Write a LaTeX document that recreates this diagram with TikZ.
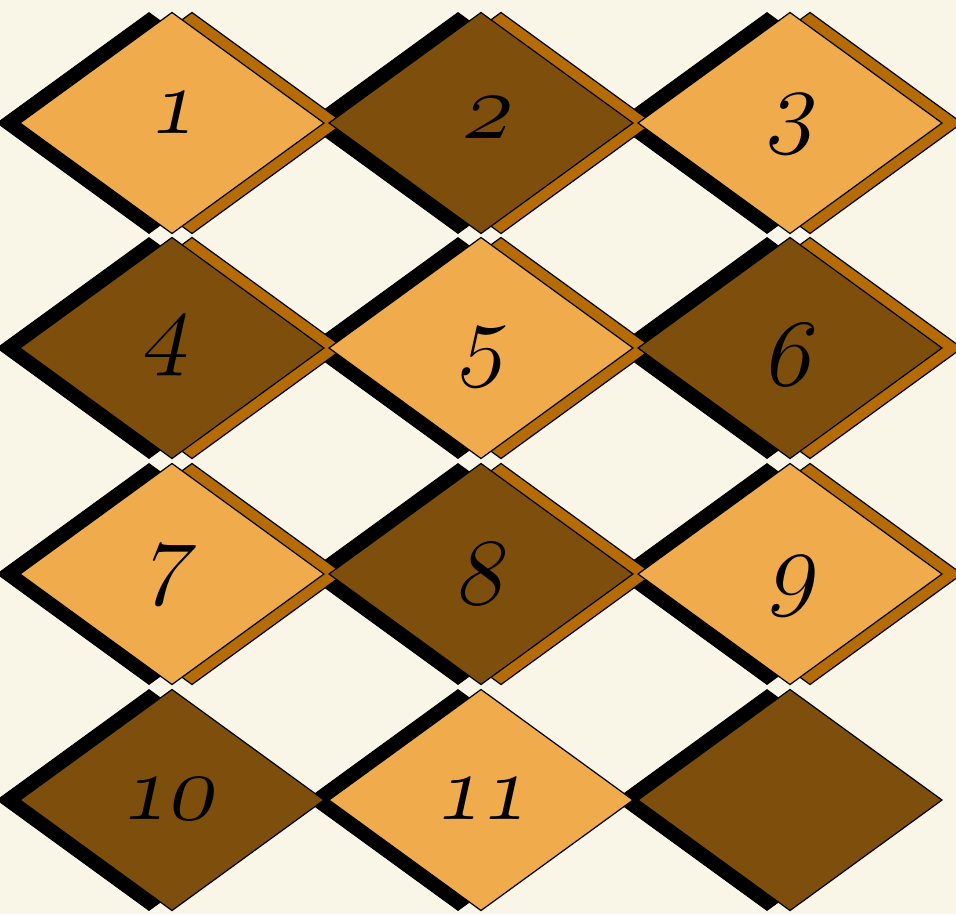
\RequirePackage{fix-cm}
\documentclass[tikz,border=0pt]{standalone}
\usepackage{tikz}
\usetikzlibrary{calc}
\usepackage{xcolor}

\definecolor{cream}{HTML}{F9F6E8}
\definecolor{tilelight}{HTML}{F0AC4C}
\definecolor{tiledark}{HTML}{7E4F0C}
\definecolor{tileshade}{HTML}{B66C06}

\tikzset{
  tileedge/.style={draw=black, line width=0.7pt, line join=miter},
  numlabel/.style={font=\fontsize{54}{60}\selectfont, inner sep=0pt,
                   xslant=0.22, transform shape}
}

\begin{document}
\begin{tikzpicture}[x=0.02cm, y=-0.02cm]
  \fill[cream] (0,0) rectangle (956,914);
  \useasboundingbox (0,0) rectangle (956,914);
  % black shadows, shifted left
  \foreach \cx/\cy in {172/123, 481/123, 790/123, 172/348, 481/348, 790/348,
                       172/574, 481/574, 790/574, 172/800, 481/800, 790/800} {
    \filldraw[black] ({\cx-175},\cy) -- ({\cx-23},{\cy-110.5}) -- ({\cx+129},\cy)
      -- ({\cx-23},{\cy+110.5}) -- cycle;
  }
  % orange shadows, shifted right (not on the last row)
  \foreach \cx/\cy in {172/123, 481/123, 790/123, 172/348, 481/348, 790/348,
                       172/574, 481/574, 790/574} {
    \filldraw[tileshade, tileedge] ({\cx-132},\cy) -- ({\cx+20},{\cy-110.5}) -- ({\cx+172},\cy)
      -- ({\cx+20},{\cy+110.5}) -- cycle;
  }
  % the tiles
  \foreach \cx/\cy/\c in {172/123/tilelight, 481/123/tiledark, 790/123/tilelight,
                          172/348/tiledark, 481/348/tilelight, 790/348/tiledark,
                          172/574/tilelight, 481/574/tiledark, 790/574/tilelight,
                          172/800/tiledark, 481/800/tilelight, 790/800/tiledark} {
    \filldraw[fill=\c, tileedge] ({\cx-152},\cy) -- (\cx,{\cy-110.5}) -- ({\cx+152},\cy)
      -- (\cx,{\cy+110.5}) -- cycle;
  }
  % numbers
  \foreach \cx/\cy/\t in {176/113/1, 489/118/2, 793/124/3, 168/346/4, 484/357/5,
                          792/355/6, 168/575/7, 484/574/8, 794/586/9, 171/799/10,
                          485/799/11} {
    \node[numlabel] (num\t) at (\cx,\cy) {$\oldstylenums{\t}$};
  }
\end{tikzpicture}
\end{document}
